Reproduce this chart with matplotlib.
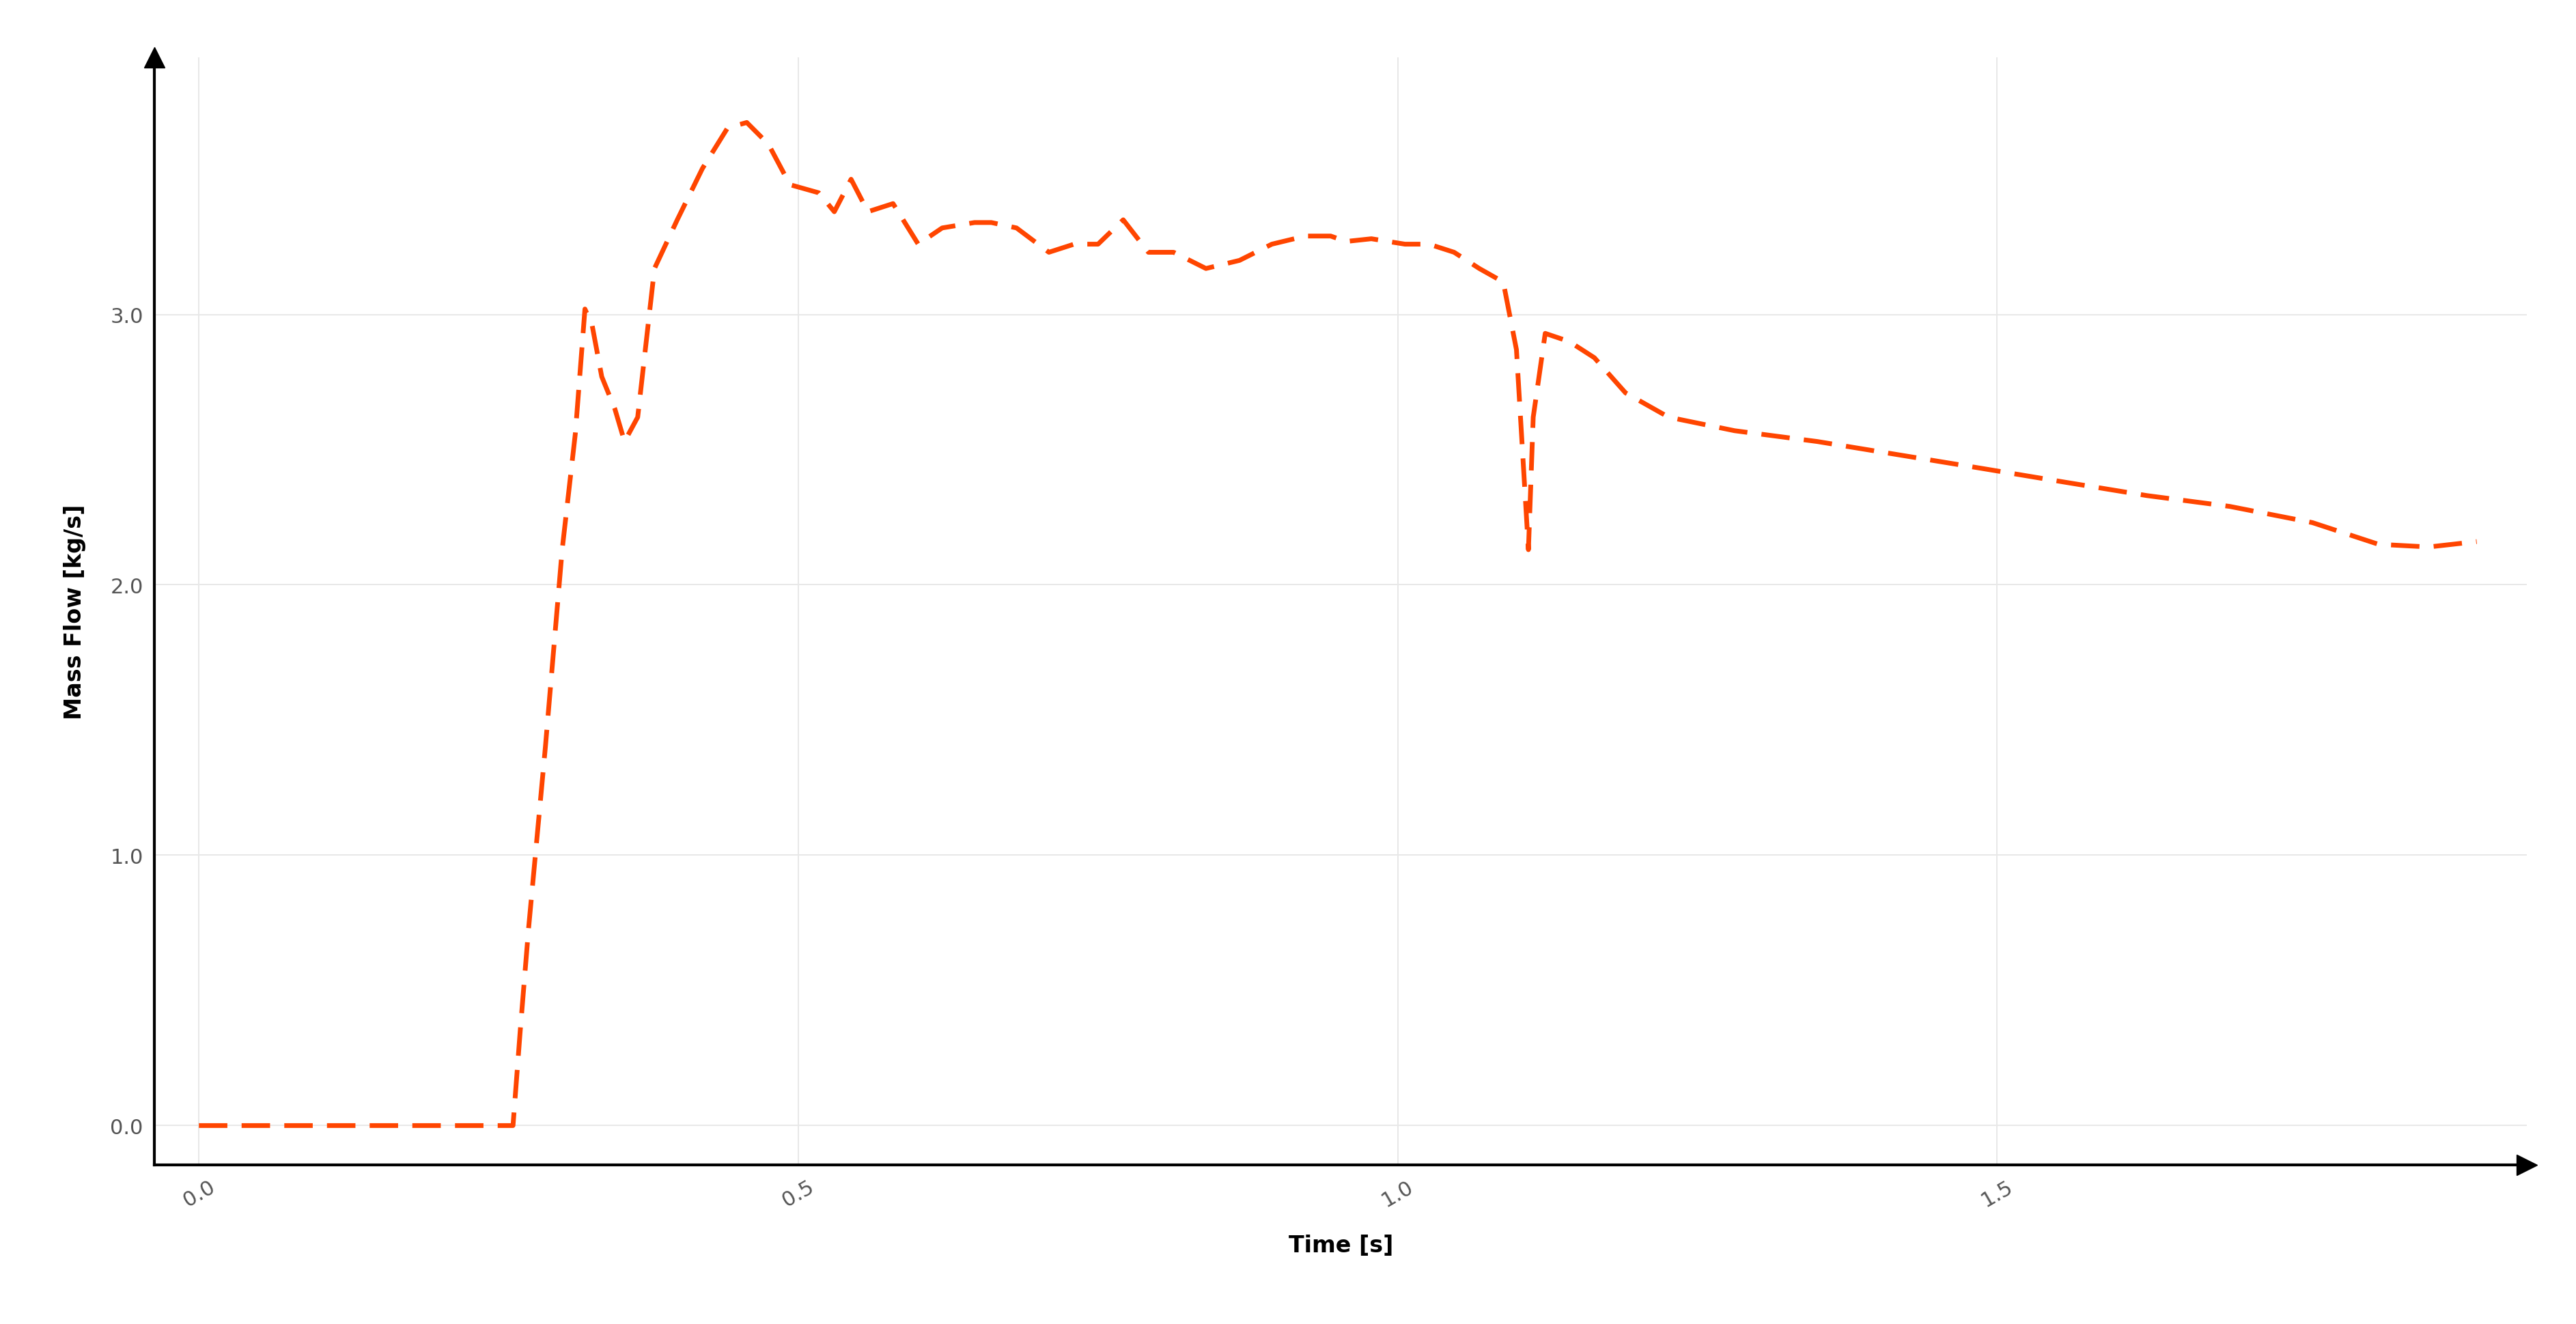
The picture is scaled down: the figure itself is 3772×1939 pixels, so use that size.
import numpy as np
import matplotlib.pyplot as plt

time_s = [0.0, 0.262, 0.268, 0.275, 0.289, 0.303, 0.314, 0.322, 0.328, 0.336, 0.347,
          0.355, 0.366, 0.380, 0.399, 0.420, 0.441, 0.457, 0.475, 0.493, 0.517,
          0.530, 0.544, 0.558, 0.579, 0.600, 0.620, 0.647, 0.661, 0.682, 0.709,
          0.730, 0.750, 0.771, 0.792, 0.813, 0.840, 0.868, 0.895, 0.923, 0.944,
          0.957, 0.978, 1.006, 1.026, 1.047, 1.068, 1.088, 1.099, 1.109, 1.113,
          1.123, 1.143, 1.164, 1.190, 1.226, 1.281, 1.350, 1.419, 1.488, 1.556,
          1.625, 1.694, 1.763, 1.818, 1.860, 1.900]
mass_flow = [0.0, 0.0, 0.35, 0.73, 1.40, 2.13, 2.56, 3.02, 2.96, 2.77, 2.65,
             2.53, 2.62, 3.17, 3.35, 3.54, 3.69, 3.71, 3.63, 3.48, 3.45,
             3.38, 3.50, 3.38, 3.41, 3.26, 3.32, 3.34, 3.34, 3.32, 3.23,
             3.26, 3.26, 3.35, 3.23, 3.23, 3.17, 3.20, 3.26, 3.29, 3.29,
             3.27, 3.28, 3.26, 3.26, 3.23, 3.17, 3.12, 2.87, 2.13, 2.62,
             2.93, 2.90, 2.84, 2.71, 2.62, 2.57, 2.53, 2.48, 2.43, 2.38,
             2.33, 2.29, 2.23, 2.15, 2.14, 2.16]

xticks = [0.0, 0.5, 1.0, 1.5]
yticks = [0.0, 1.0, 2.0, 3.0]

fig = plt.figure(figsize=(37.72, 19.4), dpi=100)
ax = fig.add_axes([0.06, 0.12, 0.921, 0.836])

ax.plot(time_s, mass_flow, color='#FF4500', lw=5, dashes=(6, 3))

ax.set_xlim(-0.037, 1.942)
ax.set_ylim(-0.146, 3.95)
ax.set_xticks(xticks)
ax.set_yticks(yticks)
ax.set_xticklabels(['%.1f' % v for v in xticks], rotation=30, color='#555555', fontsize=22)
ax.set_yticklabels(['%.1f' % v for v in yticks], color='#555555', fontsize=22)
ax.tick_params(length=0, pad=12)
ax.grid(True, color='#e8e8e8', lw=1.5)

for s in ['top', 'right']:
    ax.spines[s].set_visible(False)
for s in ['left', 'bottom']:
    ax.spines[s].set_linewidth(3)

# arrow heads on axes
ax.plot(1, 0, '>k', ms=22, transform=ax.transAxes, clip_on=False)
ax.plot(0, 1, '^k', ms=22, transform=ax.transAxes, clip_on=False)

ax.set_xlabel('Time [s]', fontsize=24, fontweight='bold', labelpad=25)
ax.set_ylabel('Mass Flow [kg/s]', fontsize=24, fontweight='bold', labelpad=25)

fig.savefig('out.png')
